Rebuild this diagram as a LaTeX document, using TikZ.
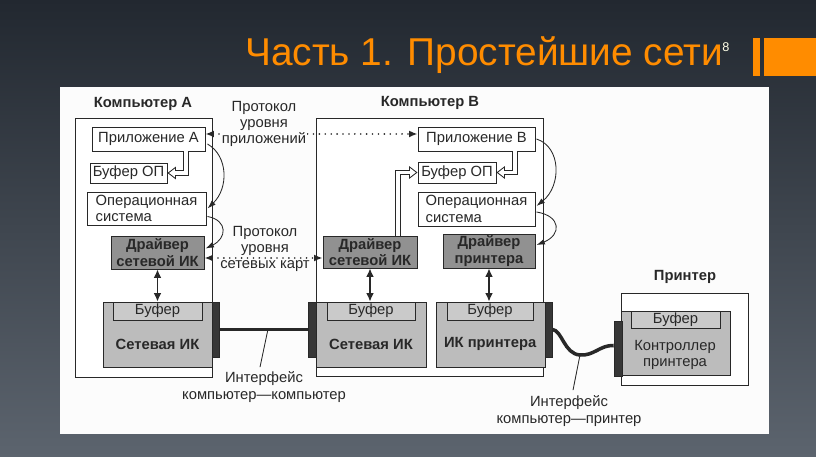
\documentclass[tikz,border=0pt]{standalone}
\usepackage{fontspec}
\setmainfont{Liberation Sans}
\usetikzlibrary{arrows.meta}
\usetikzlibrary{calc}
\usetikzlibrary{fit}
\definecolor{bgtop}{RGB}{34,40,48}
\definecolor{bgbot}{RGB}{92,100,110}
\definecolor{ttl}{RGB}{255,140,0}
\definecolor{ink}{RGB}{40,40,40}
\definecolor{drvgray}{RGB}{145,145,145}
\definecolor{cardgray}{RGB}{188,188,188}
\definecolor{bufgray}{RGB}{202,202,202}
\definecolor{plugdark}{RGB}{55,55,55}
\newcommand{\dfont}{\fontsize{10.5}{11.6}\selectfont}
\tikzstyle{box} = [draw=ink,line width=0.7pt,fill=white,inner sep=0pt]
\tikzstyle{drv} = [box,fill=drvgray]
\tikzstyle{card} = [box,fill=cardgray]
\tikzstyle{buf} = [box,fill=bufgray]
\tikzstyle{plug} = [draw=ink,fill=plugdark,inner sep=0pt,line width=0.5pt]
\tikzstyle{txt} = [font=\dfont,text=ink,align=center,inner sep=0pt]
\tikzstyle{btxt} = [txt,font=\dfont\bfseries]
\tikzstyle{comp} = [font=\dfont\bfseries,text=ink,inner sep=1pt]
\tikzstyle{lbl} = [font=\dfont,text=ink,align=center,inner sep=1pt]
\tikzstyle{dbl} = [draw=ink,line width=0.9pt,{Latex[length=6pt,width=5.5pt]}-{Latex[length=6pt,width=5.5pt]}]
\tikzstyle{curv} = [draw=ink,line width=0.6pt,-{Latex[length=6pt,width=4pt]}]
\tikzstyle{proto} = [draw=ink,line width=1.3pt,dash pattern=on 0pt off 4.2pt,line cap=round,{Latex[length=6pt,width=5pt]}-{Latex[length=6pt,width=5pt]}]
\tikzstyle{hollow} = [draw=ink,line width=0.6pt,double=white,double distance=2.6pt]
\tikzstyle{htip} = [draw=ink,line width=0.6pt,-{Triangle[length=6pt,width=9pt,fill=white]}]
\tikzstyle{cable} = [draw=ink,line width=2.5pt]
\tikzstyle{lead} = [draw=ink,line width=0.6pt]

\begin{document}
\begin{tikzpicture}[x=0.025cm,y=-0.025cm]
\useasboundingbox (0,0) rectangle (816,457);
\shade[top color=bgtop,bottom color=bgbot] (0,0) rectangle (816,457);
\fill[ttl] (753,38) rectangle (760,76);
\fill[ttl] (764,38) rectangle (816,76);
\node[anchor=base west,inner sep=0pt,text=ttl,font=\fontsize{27.6}{34}\selectfont] (head) at (245,66) {Часть 1. Простейшие сети};
\node[inner sep=0pt,text=white!90!yellow,font=\fontsize{9}{10}\selectfont] (pg) at (726,47) {8};
\fill[white!98!gray] (60,87) rectangle (769,434);

% computer A
\node[comp] (labA) at (143,104) {Компьютер А};
\node[box,fit={(75,118) (212,377)}] (compA) {};
\node[box,fit={(92,127) (205,151)},label={[txt]center:Приложение А}] (appA) {};
\node[box,fit={(90,163) (167,183)},label={[txt]center:Буфер ОП}] (bufA) {};
\node[box,fit={(87,192) (206,225)},label={[txt,align=left]center:Операционная\\система}] (osA) {};
\node[drv,fit={(111,236) (204,269)},label={[btxt]center:Драйвер\\сетевой ИК}] (drvA) {};
\node[card,fit={(103,302) (212,367)}] (cardA) {};
\node[buf,fit={(113,302) (202,320)},label={[txt]center:Буфер}] (cbufA) {};
\node[btxt] (nicA) at ($(cbufA.south)!0.5!(cardA.south)$) {Сетевая ИК};
\node[plug,fit={(212,302) (219,357)}] (plugA) {};

% computer B
\node[comp] (labB) at (430,103) {Компьютер В};
\node[box,fit={(316,118) (543,376)}] (compB) {};
\node[box,fit={(418,127) (535,151)},label={[txt]center:Приложение В}] (appB) {};
\node[box,fit={(418,162) (496,183)},label={[txt]center:Буфер ОП}] (bufB) {};
\node[box,fit={(418,192) (535,226)},label={[txt,align=left]center:Операционная\\система}] (osB) {};
\node[drv,fit={(323,236) (417,268)},label={[btxt]center:Драйвер\\сетевой ИК}] (drvB) {};
\node[drv,fit={(443,234) (535,268)},label={[btxt]center:Драйвер\\принтера}] (drvP) {};
\node[card,fit={(316,302) (426,367)}] (cardB) {};
\node[buf,fit={(327,302) (415,320)},label={[txt]center:Буфер}] (cbufB) {};
\node[btxt] (nicB) at ($(cbufB.south)!0.5!(cardB.south)$) {Сетевая ИК};
\node[plug,fit={(308,302) (316,357)}] (plugB) {};
\node[card,fit={(436,302) (545,367)}] (cardP) {};
\node[buf,fit={(447,302) (533,320)},label={[txt]center:Буфер}] (cbufP) {};
\node[btxt] (nicP) at ($(cbufP.south)!0.5!(cardP.south)$) {ИК принтера};
\node[plug,fit={(545,302) (552,357)}] (plugC) {};

% printer
\node[comp] (labP) at (685,277) {Принтер};
\node[box,fit={(621,293) (748,385)}] (prn) {};
\node[card,fit={(621,311) (730,375)}] (ctrl) {};
\node[buf,fit={(631,311) (720,328)},label={[txt]center:Буфер}] (cbufC) {};
\node[txt] (ctrlt) at (675,355) {Контроллер\\принтера};
\node[plug,fit={(614,321) (622,376)}] (plugP) {};

% links
\draw[proto] ($(appA.east)+(0,-5)$) -- ($(appB.west)+(0,-5)$);
\draw[proto] ($(drvA.east)+(0,5.5)$) -- ($(drvA.east -| drvB.west)+(0,5.5)$);
\node[lbl,fill=white!98!gray] (protoApp) at (264,124) {Протокол\\уровня\\приложений};
\node[lbl] (protoNet) at (265,249) {Протокол\\уровня\\сетевых карт};

\draw[curv] ($(appA.east)+(2,5)$) .. controls +(21,12) and +(21,-20) .. ($(osA.east)+(1,0)$);
\draw[curv] ($(osA.east)+(1,8)$) .. controls +(21,4) and +(21,-10) .. ($(drvA.east)+(1,-4)$);
\draw[curv] ($(appB.east)+(1,0)$) .. controls +(25,8) and +(25,-20) .. ($(osB.east)+(1,-3)$);
\draw[curv] ($(osB.east)+(1,3)$) .. controls +(25,4) and +(25,-10) .. ($(drvP.east)+(1,-6)$);

\draw[htip] ($(bufA.east)+(10,0)$) -- (bufA.east);
\draw[hollow,shorten >=5pt] ($(appA.south)+(37.5,0)$) |- (bufA.east);
\draw[htip] ($(bufB.east)+(10,0)$) -- (bufB.east);
\draw[hollow,shorten >=5pt] ($(appB.south)+(38.5,0)$) |- (bufB.east);
\draw[htip] ($(bufB.west)+(-10,0)$) -- (bufB.west);
\draw[hollow,shorten >=5pt] ($(drvB.north)+(28,0)$) |- (bufB.west);

\draw[dbl] (drvA.south) -- (drvA.south |- cardA.north);
\draw[dbl] (drvB.south) -- (drvB.south |- cardB.north);
\draw[dbl] (drvP.south) -- (drvP.south |- cardP.north);

\draw[cable] (plugA.east) -- coordinate[pos=0.55] (cabA) (plugB.west);
\draw[cable] (plugC.east) .. controls (562,330) and (564,354) .. (580,355) coordinate (cabP)
  .. controls (594,356) and (600,345) .. ($(plugP.west)+(0,-3)$);

\node[lbl] (ifAB) at (264,387) {Интерфейс\\компьютер—компьютер};
\node[lbl] (ifCP) at (569,411) {Интерфейс\\компьютер—принтер};
\draw[lead] (cabA) -- ($(ifAB.north)+(-4,-3)$);
\draw[lead] (cabP) -- ($(ifCP.north)+(4,-4)$);

\end{tikzpicture}
\end{document}
